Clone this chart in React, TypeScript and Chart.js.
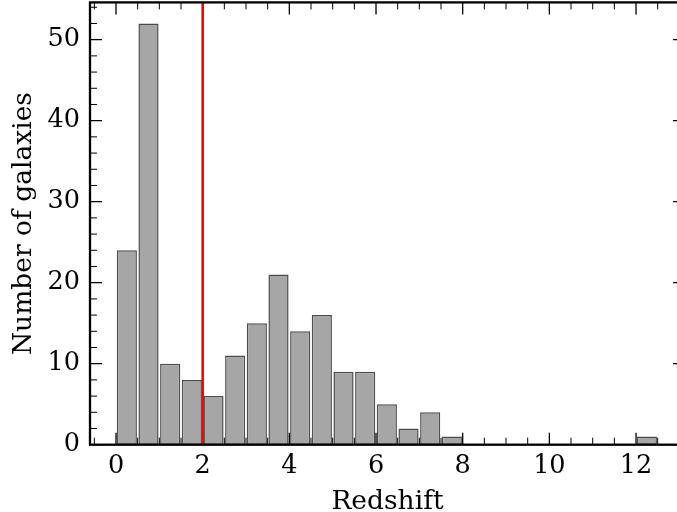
import React, { useEffect, useRef } from "react";
import { Chart, registerables } from "chart.js";

Chart.register(...registerables);

// ---- data ----
const binCenters = [
  0.25, 0.75, 1.25, 1.75, 2.25, 2.75, 3.25, 3.75, 4.25, 4.75, 5.25, 5.75, 6.25,
  6.75, 7.25, 7.75, 8.25, 8.75, 9.25, 9.75, 10.25, 10.75, 11.25, 11.75, 12.25,
];
const galaxyCounts = [
  24, 52, 10, 8, 6, 11, 15, 21, 14, 16, 9, 9, 5, 2, 4, 1, 0, 0, 0, 0, 0, 0, 0, 0, 1,
];
const xTickValues = [0, 2, 4, 6, 8, 10, 12];
const yTickValues = [0, 10, 20, 30, 40, 50];
const xMinorStep = 0.5;
const yMinorStep = 2;
const redshiftCut = 2;
const xLabel = "Redshift";
const yLabel = "Number of galaxies";

const X_MIN = -0.6;
const X_MAX = 13.13;
const Y_MIN = 0;
const Y_MAX = 54.6;

const FONT = "'DejaVu Serif', 'Liberation Serif', serif";
const TICK_SIZE = 25.5;
const TITLE_SIZE = 26.5;

const framePlugin = {
  id: "mplFrame",
  afterDatasetsDraw(chart: any) {
    const { ctx, chartArea } = chart;
    const xs = chart.scales.x;
    const ys = chart.scales.y;
    const { left, right, top, bottom } = chartArea;
    ctx.save();
    ctx.strokeStyle = "#000";
    const drawX = (v: number, len: number, w: number) => {
      const px = xs.getPixelForValue(v);
      if (px < left || px > right) return;
      ctx.lineWidth = w;
      ctx.beginPath();
      ctx.moveTo(px, bottom);
      ctx.lineTo(px, bottom - len);
      ctx.moveTo(px, top);
      ctx.lineTo(px, top + len);
      ctx.stroke();
    };
    const drawY = (v: number, len: number, w: number) => {
      const py = ys.getPixelForValue(v);
      if (py < top - 0.5 || py > bottom + 0.5) return;
      ctx.lineWidth = w;
      ctx.beginPath();
      ctx.moveTo(left, py);
      ctx.lineTo(left + len, py);
      ctx.moveTo(right, py);
      ctx.lineTo(right - len, py);
      ctx.stroke();
    };
    for (let v = Math.ceil(X_MIN / xMinorStep) * xMinorStep; v <= X_MAX; v += xMinorStep) {
      if (!xTickValues.includes(v)) drawX(v, 7, 1);
    }
    xTickValues.forEach((v) => drawX(v, 12, 1.3));
    for (let v = 0; v <= Y_MAX; v += yMinorStep) {
      if (!yTickValues.includes(v)) drawY(v, 7, 1);
    }
    yTickValues.forEach((v) => drawY(v, 12, 1.3));

    // red vertical line
    const rx = xs.getPixelForValue(redshiftCut);
    ctx.strokeStyle = "#ff0000";
    ctx.lineWidth = 2.6;
    ctx.beginPath();
    ctx.moveTo(rx, top);
    ctx.lineTo(rx, bottom);
    ctx.stroke();

    // spines
    ctx.strokeStyle = "#000";
    ctx.lineWidth = 2.3;
    ctx.strokeRect(left, top, right - left, bottom - top);
    ctx.restore();
  },
};

export default function App() {
  const canvasRef = useRef<HTMLCanvasElement | null>(null);

  useEffect(() => {
    if (!canvasRef.current) return;
    const chart = new Chart(canvasRef.current, {
      type: "bar",
      data: {
        datasets: [
          {
            data: binCenters.map((x, i) => ({ x, y: galaxyCounts[i] })),
            backgroundColor: "#a6a6a6",
            borderColor: "#4d4d4d",
            borderWidth: 1.5,
            borderSkipped: false,
            barPercentage: 0.93,
            categoryPercentage: 1,
          } as any,
        ],
      },
      options: {
        responsive: false,
        animation: false,
        events: [],
        layout: { padding: { left: 0, right: 5, top: 2.4, bottom: 0 } },
        plugins: {
          legend: { display: false },
          tooltip: { enabled: false },
        },
        scales: {
          x: {
            type: "linear",
            min: X_MIN,
            max: X_MAX,
            offset: false,
            grid: { display: false, drawTicks: false, offset: false },
            border: { display: false },
            ticks: {
              font: { family: FONT, size: TICK_SIZE },
              color: "#000",
              padding: 6,
              maxRotation: 0,
              autoSkip: false,
            },
            afterBuildTicks: (s: any) => {
              s.ticks = xTickValues.map((v) => ({ value: v }));
            },
            afterFit: (s: any) => {
              s.height = 67.3;
              s.paddingLeft = 0;
              s.paddingRight = 0;
            },
            title: {
              display: true,
              text: xLabel,
              color: "#000",
              font: { family: FONT, size: TITLE_SIZE, lineHeight: 0.75 },
              padding: { top: 0, bottom: 0 },
            },
          } as any,
          y: {
            type: "linear",
            min: Y_MIN,
            max: Y_MAX,
            grid: { display: false, drawTicks: false },
            border: { display: false },
            ticks: {
              font: { family: FONT, size: TICK_SIZE },
              color: "#000",
              padding: 10,
              autoSkip: false,
            },
            afterBuildTicks: (s: any) => {
              s.ticks = yTickValues.map((v) => ({ value: v }));
            },
            afterFit: (s: any) => {
              s.width = 90;
              s.paddingTop = 0;
              s.paddingBottom = 0;
            },
            title: {
              display: true,
              text: yLabel,
              color: "#000",
              font: { family: FONT, size: TITLE_SIZE, lineHeight: 1 },
              padding: { top: 11, bottom: 0 },
            },
          } as any,
        },
      },
      plugins: [framePlugin],
    });
    return () => chart.destroy();
  }, []);

  return (
    <div
      style={{
        position: "fixed",
        left: 0,
        top: 0,
        width: 677,
        height: 512,
        overflow: "hidden",
        background: "#fff",
      }}
    >
      <canvas ref={canvasRef} width={690} height={512} style={{ display: "block" }} />
    </div>
  );
}
